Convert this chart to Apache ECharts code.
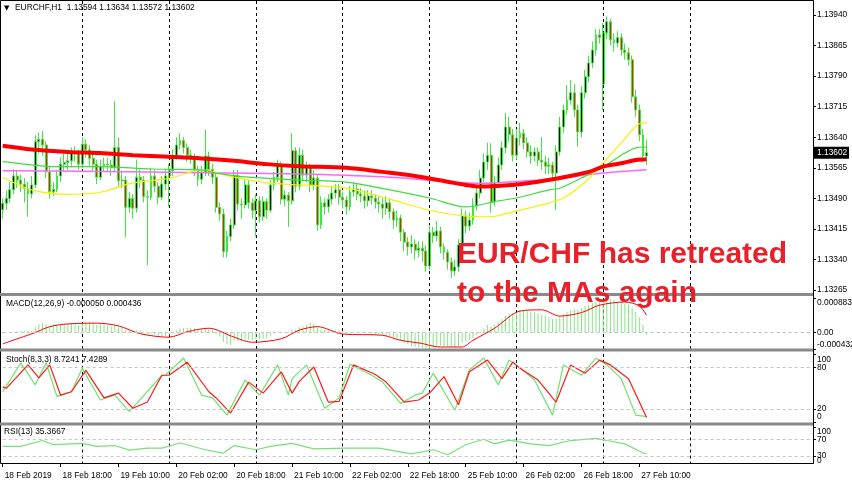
<!DOCTYPE html>
<html><head><meta charset="utf-8">
<script src="https://cdn.jsdelivr.net/npm/echarts@6/dist/echarts.min.js"></script>
<style>html,body{margin:0;padding:0;background:#fff}#c{width:852px;height:485px}</style>
</head><body><div id="c"></div><script>
// ---------- data ----------
const headerText = 'EURCHF,H1  1.13594 1.13634 1.13572 1.13602';
const macdTitle = 'MACD(12,26,9) -0.000050 0.000436';
const stochTitle = 'Stoch(8,3,3) 8.7241 7.4289';
const rsiTitle = 'RSI(13) 35.3667';
const noteLine1 = 'EUR/CHF has retreated';
const noteLine2 = 'to the MAs again';
const tickLabels = ['18 Feb 2019','18 Feb 18:00','19 Feb 10:00','20 Feb 02:00','20 Feb 18:00','21 Feb 10:00','22 Feb 02:00','22 Feb 18:00','25 Feb 10:00','26 Feb 02:00','26 Feb 18:00','27 Feb 10:00'];
const tickStep = 16;
const dayStarts = [22,46,70,94,118,142,166,190];
const slotCount = 225;
const priceTicks = [1.13265,1.13340,1.13415,1.13490,1.13565,1.13640,1.13715,1.13790,1.13865,1.13940];
const lastPrice = 1.13602;
const macdTicks = [0.000883, 0, -0.000432];
const stochTicks = [100, 80, 20, 0];
const rsiTicks = [100, 70, 30, 0];
// [open, close, low, high]
const candles = [
[1.13462,1.13478,1.13440,1.13490],[1.13478,1.13490,1.13462,1.13510],[1.13490,1.13511,1.13478,1.13530],[1.13511,1.13545,1.13500,1.13562],[1.13545,1.13535,1.13515,1.13560],
[1.13535,1.13525,1.13505,1.13548],[1.13525,1.13515,1.13480,1.13540],[1.13515,1.13501,1.13445,1.13530],[1.13501,1.13523,1.13490,1.13545],[1.13523,1.13629,1.13515,1.13645],
[1.13629,1.13635,1.13600,1.13652],[1.13635,1.13621,1.13595,1.13655],[1.13621,1.13555,1.13540,1.13630],[1.13555,1.13506,1.13490,1.13570],[1.13506,1.13512,1.13495,1.13530],
[1.13512,1.13545,1.13505,1.13560],[1.13545,1.13574,1.13530,1.13590],[1.13574,1.13578,1.13555,1.13600],[1.13578,1.13582,1.13560,1.13600],[1.13582,1.13602,1.13570,1.13615],
[1.13602,1.13601,1.13580,1.13618],[1.13601,1.13574,1.13560,1.13610],[1.13574,1.13623,1.13565,1.13640],[1.13623,1.13609,1.13590,1.13635],[1.13609,1.13588,1.13570,1.13620],
[1.13588,1.13574,1.13555,1.13600],[1.13574,1.13542,1.13525,1.13585],[1.13542,1.13569,1.13535,1.13585],[1.13569,1.13574,1.13555,1.13590],[1.13574,1.13572,1.13555,1.13590],
[1.13572,1.13566,1.13545,1.13585],[1.13566,1.13615,1.13555,1.13728],[1.13615,1.13533,1.13520,1.13640],[1.13533,1.13535,1.13515,1.13555],[1.13535,1.13468,1.13395,1.13545],
[1.13468,1.13490,1.13455,1.13505],[1.13490,1.13466,1.13440,1.13500],[1.13466,1.13542,1.13455,1.13585],[1.13542,1.13535,1.13515,1.13560],[1.13535,1.13494,1.13480,1.13545],
[1.13494,1.13493,1.13326,1.13510],[1.13493,1.13545,1.13485,1.13565],[1.13545,1.13520,1.13505,1.13560],[1.13520,1.13493,1.13475,1.13530],[1.13493,1.13525,1.13485,1.13545],
[1.13525,1.13545,1.13510,1.13560],[1.13545,1.13558,1.13470,1.13575],[1.13558,1.13596,1.13545,1.13610],[1.13596,1.13621,1.13585,1.13640],[1.13621,1.13632,1.13610,1.13650],
[1.13632,1.13615,1.13600,1.13640],[1.13615,1.13596,1.13580,1.13625],[1.13596,1.13592,1.13575,1.13610],[1.13592,1.13561,1.13545,1.13600],[1.13561,1.13537,1.13520,1.13570],
[1.13537,1.13555,1.13525,1.13570],[1.13555,1.13594,1.13545,1.13658],[1.13594,1.13561,1.13545,1.13605],[1.13561,1.13542,1.13525,1.13575],[1.13542,1.13468,1.13455,1.13550],
[1.13468,1.13452,1.13435,1.13480],[1.13452,1.13359,1.13345,1.13465],[1.13359,1.13396,1.13345,1.13410],[1.13396,1.13425,1.13385,1.13440],[1.13425,1.13547,1.13415,1.13560],
[1.13547,1.13476,1.13460,1.13560],[1.13476,1.13474,1.13440,1.13490],[1.13474,1.13523,1.13465,1.13535],[1.13523,1.13479,1.13465,1.13535],[1.13479,1.13460,1.13440,1.13490],
[1.13460,1.13484,1.13396,1.13500],[1.13484,1.13445,1.13430,1.13495],[1.13445,1.13482,1.13435,1.13495],[1.13482,1.13461,1.13440,1.13490],[1.13461,1.13523,1.13455,1.13535],
[1.13523,1.13542,1.13510,1.13555],[1.13542,1.13569,1.13530,1.13585],[1.13569,1.13488,1.13475,1.13580],[1.13488,1.13498,1.13470,1.13510],[1.13498,1.13484,1.13420,1.13505],
[1.13484,1.13607,1.13475,1.13650],[1.13607,1.13520,1.13505,1.13615],[1.13520,1.13596,1.13510,1.13615],[1.13596,1.13547,1.13535,1.13610],[1.13547,1.13565,1.13530,1.13580],
[1.13565,1.13523,1.13505,1.13575],[1.13523,1.13540,1.13510,1.13560],[1.13540,1.13425,1.13410,1.13550],[1.13425,1.13479,1.13415,1.13495],[1.13479,1.13469,1.13450,1.13490],
[1.13469,1.13488,1.13455,1.13500],[1.13488,1.13503,1.13475,1.13520],[1.13503,1.13511,1.13490,1.13525],[1.13511,1.13493,1.13475,1.13525],[1.13493,1.13486,1.13465,1.13505],
[1.13486,1.13469,1.13450,1.13495],[1.13469,1.13506,1.13460,1.13520],[1.13506,1.13513,1.13495,1.13530],[1.13513,1.13501,1.13485,1.13525],[1.13501,1.13496,1.13480,1.13515],
[1.13496,1.13484,1.13465,1.13510],[1.13484,1.13496,1.13470,1.13510],[1.13496,1.13491,1.13475,1.13510],[1.13491,1.13481,1.13465,1.13500],[1.13481,1.13476,1.13455,1.13495],
[1.13476,1.13466,1.13440,1.13490],[1.13466,1.13479,1.13450,1.13495],[1.13479,1.13457,1.13440,1.13490],[1.13457,1.13437,1.13415,1.13465],[1.13437,1.13442,1.13420,1.13460],
[1.13442,1.13407,1.13385,1.13450],[1.13407,1.13383,1.13360,1.13415],[1.13383,1.13371,1.13350,1.13395],[1.13371,1.13378,1.13355,1.13400],[1.13378,1.13363,1.13340,1.13390],
[1.13363,1.13368,1.13345,1.13385],[1.13368,1.13361,1.13335,1.13385],[1.13361,1.13324,1.13310,1.13375],[1.13324,1.13407,1.13315,1.13425],[1.13407,1.13398,1.13380,1.13420],
[1.13398,1.13410,1.13385,1.13435],[1.13410,1.13371,1.13355,1.13420],[1.13371,1.13358,1.13340,1.13380],[1.13358,1.13334,1.13315,1.13365],[1.13334,1.13312,1.13295,1.13345],
[1.13312,1.13322,1.13300,1.13340],[1.13322,1.13376,1.13310,1.13390],[1.13376,1.13447,1.13365,1.13465],[1.13447,1.13422,1.13405,1.13460],[1.13422,1.13437,1.13410,1.13455],
[1.13437,1.13471,1.13425,1.13490],[1.13471,1.13503,1.13460,1.13520],[1.13503,1.13540,1.13490,1.13560],[1.13540,1.13579,1.13530,1.13600],[1.13579,1.13596,1.13560,1.13626],
[1.13596,1.13481,1.13455,1.13625],[1.13481,1.13528,1.13470,1.13545],[1.13528,1.13572,1.13515,1.13590],[1.13572,1.13614,1.13560,1.13630],[1.13614,1.13665,1.13600,1.13700],
[1.13665,1.13646,1.13630,1.13690],[1.13646,1.13596,1.13580,1.13660],[1.13596,1.13638,1.13585,1.13660],[1.13638,1.13650,1.13620,1.13675],[1.13650,1.13626,1.13610,1.13660],
[1.13626,1.13604,1.13590,1.13640],[1.13604,1.13594,1.13575,1.13620],[1.13594,1.13604,1.13580,1.13615],[1.13604,1.13584,1.13570,1.13615],[1.13584,1.13579,1.13560,1.13641],
[1.13579,1.13569,1.13550,1.13595],[1.13569,1.13572,1.13550,1.13590],[1.13572,1.13552,1.13535,1.13580],[1.13552,1.13604,1.13461,1.13620],[1.13604,1.13665,1.13595,1.13690],
[1.13665,1.13707,1.13650,1.13720],[1.13707,1.13731,1.13695,1.13768],[1.13731,1.13749,1.13720,1.13780],[1.13749,1.13707,1.13690,1.13770],[1.13707,1.13653,1.13617,1.13720],
[1.13653,1.13749,1.13640,1.13765],[1.13749,1.13788,1.13735,1.13805],[1.13788,1.13822,1.13775,1.13840],[1.13822,1.13854,1.13810,1.13875],[1.13854,1.13891,1.13840,1.13905],
[1.13891,1.13884,1.13870,1.13905],[1.13770,1.13896,1.13707,1.13920],[1.13896,1.13923,1.13880,1.13936],[1.13923,1.13879,1.13865,1.13930],[1.13879,1.13871,1.13850,1.13895],
[1.13871,1.13884,1.13860,1.13900],[1.13884,1.13854,1.13840,1.13895],[1.13854,1.13847,1.13830,1.13870],[1.13847,1.13830,1.13815,1.13860],[1.13830,1.13739,1.13725,1.13840],
[1.13739,1.13707,1.13690,1.13756],[1.13707,1.13646,1.13630,1.13720],[1.13646,1.13594,1.13580,1.13660],[1.13594,1.13602,1.13572,1.13634]
];
// moving averages: [bar index, price]
const maRed = [[0,1.13619],[8,1.13610],[18,1.13604],[27,1.13601],[36,1.13596],[46,1.13592],[55,1.13588],[64,1.13582],[73,1.13574],[82,1.13569],[95,1.13565],[105,1.13555],[114,1.13545],[123,1.13531],[128,1.13523],[132,1.13519],[141,1.13523],[145,1.13527],[154,1.13540],[162,1.13555],[166,1.13568],[171,1.13576],[175,1.13584],[178,1.13586]];
const maMagenta = [[0,1.13558],[27,1.13556],[55,1.13553],[82,1.13550],[105,1.13543],[123,1.13531],[132,1.13527],[145,1.13533],[154,1.13539],[166,1.13552],[178,1.13560]];
const maGreen = [[0,1.13580],[8,1.13572],[14,1.13568],[27,1.13568],[41,1.13562],[55,1.13560],[59,1.13552],[68,1.13542],[82,1.13535],[95,1.13530],[107,1.13511],[118,1.13491],[128,1.13469],[137,1.13484],[142,1.13491],[151,1.13511],[154,1.13515],[160,1.13540],[166,1.13567],[171,1.13596],[175,1.13614],[178,1.13616]];
const maYellow = [[0,1.13542],[8,1.13511],[18,1.13500],[27,1.13505],[36,1.13528],[46,1.13539],[55,1.13560],[64,1.13542],[73,1.13528],[82,1.13523],[95,1.13515],[107,1.13488],[118,1.13461],[129,1.13446],[135,1.13445],[141,1.13457],[149,1.13474],[155,1.13491],[161,1.13530],[166,1.13577],[171,1.13626],[176,1.13673],[178,1.13675]];
// MACD main (histogram), one per bar
const macdHist = [
-0.00003,-0.00002,0,0.00002,0.00003,0.00003,0.00004,0.00003,0.00004,0.00015,
0.00022,0.00025,0.00022,0.00016,0.00016,0.00018,0.0002,0.00021,0.00022,0.00023,
0.00022,0.00019,0.00024,0.00025,0.00026,0.00024,0.0002,0.00022,0.0002,0.00018,
0.00016,0.0002,0.00014,0.00012,0.00006,0.00005,0.00003,0.00006,0.00005,0,
-0.00004,-0.00003,-0.00005,-0.00008,-0.00009,-0.00008,-0.00007,-0.00002,0.00005,0.0001,
0.00012,0.00012,0.00012,0.0001,0.00008,0.00008,0.00012,0.0001,0.00006,-0.00004,
-0.0001,-0.00024,-0.0003,-0.00032,-0.0002,-0.00022,-0.00023,-0.00018,-0.00018,-0.00019,
-0.00017,-0.00018,-0.00015,-0.00014,-0.00008,-0.00003,0.00002,0,0,-0.00001,
0.00008,0.00008,0.00014,0.00016,0.00019,0.00025,0.00022,0.00012,0.00008,0.00007,
0.00006,0.00006,0.00006,0.00005,0.00004,0.00002,0.00002,0.00002,0.00002,0.00001,
-0.00001,-0.00002,-0.00003,-0.00005,-0.00006,-0.00007,-0.00008,-0.00009,-0.00012,-0.00016,
-0.0002,-0.00026,-0.0003,-0.00034,-0.00036,-0.00038,-0.0004,-0.00043,-0.00043,-0.00037,
-0.00034,-0.00034,-0.00035,-0.00036,-0.00038,-0.00038,-0.00034,-0.00026,-0.00022,-0.00019,
-0.00014,-0.00006,0.00002,0.0001,0.00019,0.00016,0.0002,0.00026,0.00034,0.00043,
0.00048,0.00049,0.00052,0.00055,0.00056,0.00056,0.00053,0.00051,0.00048,0.00045,
0.00042,0.00039,0.00035,0.00036,0.00042,0.00048,0.00053,0.00058,0.0006,0.00059,
0.00063,0.00067,0.00071,0.00075,0.00079,0.00077,0.0008,0.00088,0.00086,0.00083,
0.00079,0.00077,0.00074,0.00071,0.00064,0.00053,0.00039,0.0002,-0.00005
];
const macdSignal = [[0,-0.00029],[9,0],[13,0.00015],[18,0.00022],[26,0.00024],[32,0.00017],[38,-0.00003],[46,-0.00012],[51,0.00002],[57,0.00011],[64,-0.00012],[69,-0.00025],[77,-0.00016],[82,0.00006],[87,0.00015],[94,-0.00004],[105,-0.00007],[110,-0.0002],[116,-0.00028],[118,-0.00033],[121,-0.00037],[127,-0.00037],[130,-0.0002],[136,0.00011],[143,0.00055],[149,0.00058],[154,0.00042],[160,0.00051],[165,0.00070],[172,0.00078],[176,0.00068],[178,0.00044]];
const stochK = [[0,45],[5,87],[9,55],[12,87],[15,38],[19,45],[22,79],[27,33],[31,40],[35,16],[44,69],[45,69],[50,94],[55,40],[58,36],[62,11],[67,62],[71,40],[76,84],[79,40],[80,64],[84,84],[89,21],[93,36],[96,85],[102,69],[105,59],[110,28],[114,40],[116,43],[119,72],[125,18],[129,77],[133,94],[137,55],[140,91],[143,80],[147,62],[152,11],[155,84],[160,69],[164,94],[167,84],[171,64],[175,11],[178,8.72]];
const stochD = [[0,52],[1,50],[7,84],[10,65],[13,84],[16,40],[19,45],[23,76],[28,36],[32,43],[36,21],[40,30],[44,69],[46,69],[51,88],[57,45],[59,36],[63,14],[68,59],[72,43],[77,74],[80,43],[82,60],[86,81],[90,30],[93,31],[97,84],[103,70],[106,59],[111,30],[115,33],[118,43],[122,67],[126,26],[129,74],[134,91],[138,64],[141,88],[143,79],[148,62],[153,30],[157,84],[161,72],[165,91],[168,84],[173,64],[178,7.43]];
const rsi = [[0,53],[5,53],[11,67],[14,57],[22,60],[26,53],[31,55],[35,44],[40,49],[44,49],[49,61],[56,45],[61,37],[64,55],[70,45],[74,53],[80,60],[86,47],[95,49],[104,49],[113,35],[119,45],[123,33],[128,57],[133,70],[136,59],[140,68],[146,59],[151,55],[157,67],[164,72],[167,67],[172,59],[177,37],[178,35.37]];

// ---------- chart ----------
const FONT = '"Liberation Sans", Arial, sans-serif';
const FS = 8.4;
const cats = Array.from({length: slotCount}, (_, i) => String(i));
const isDay = i => dayStarts.indexOf(i) >= 0;
const isTick = i => i % tickStep === 0 && i / tickStep < tickLabels.length;

function xAx(gi, labels) {
  return {
    type: 'category', gridIndex: gi, data: cats, boundaryGap: false,
    axisLine: {show: labels, onZero: false, lineStyle: {color: '#000', width: 1}},
    axisTick: {show: labels, interval: (i) => isTick(i), length: 4, lineStyle: {color: '#000'}},
    axisLabel: {show: labels, interval: (i) => isTick(i), formatter: (v, i) => tickLabels[i / tickStep] || '',
      align: 'left', margin: 9, padding: [0, 0, 0, 2], fontSize: FS, fontFamily: FONT, color: '#000', hideOverlap: false},
    splitLine: {show: true, interval: (i) => isDay(i), lineStyle: {type: [3, 3], color: '#000', width: 1}}
  };
}
function yAx(gi, min, max, vals, showLabels) {
  return {
    type: 'value', gridIndex: gi, position: 'right', min: min, max: max,
    axisLine: {show: true, onZero: false, lineStyle: {color: '#000', width: 1}},
    axisTick: {show: true, length: 3, customValues: vals.filter(v => v >= min && v <= max), lineStyle: {color: '#000'}},
    axisLabel: {show: showLabels, customValues: vals, formatter: v => v.toFixed(5),
      fontSize: FS, fontFamily: FONT, color: '#000', margin: 4, hideOverlap: false},
    splitLine: {show: false}
  };
}
const dashLevel = (vals) => ({
  symbol: 'none', silent: true, animation: false, label: {show: false},
  lineStyle: {type: [3, 3], color: '#c4c4c4', width: 1},
  data: vals.map(v => ({yAxis: v}))
});

const LEFT = 2.7, RIGHT = 39;
const GR = [[1, 292], [298, 51.4], [353.9, 68.8], [425.5, 37.5]];
const G = (k) => ({left: LEFT, right: RIGHT, top: GR[k][0], height: GR[k][1], containLabel: false, outerBoundsMode: 'none'});
const AX = [[1.13258, 1.13974], [-0.000432, 0.000883], [0, 100], [13.2, 103]];
const option = {
  animation: false,
  backgroundColor: '#ffffff',
  grid: [G(0), G(1), G(2), G(3)],
  xAxis: [xAx(0, false), xAx(1, false), xAx(2, false), xAx(3, true)],
  yAxis: [
    yAx(0, AX[0][0], AX[0][1], priceTicks, true),
    yAx(1, AX[1][0], AX[1][1], macdTicks, false),
    yAx(2, AX[2][0], AX[2][1], stochTicks, false),
    yAx(3, AX[3][0], AX[3][1], rsiTicks, false)
  ],
  series: [
    {type: 'candlestick', xAxisIndex: 0, yAxisIndex: 0, data: candles, barWidth: 2.4, clip: false, z: 2,
      itemStyle: {color: '#000000', color0: '#e02010', borderColor: '#3fe83f', borderColor0: '#3fe83f', borderWidth: 1},
      markLine: {symbol: 'none', silent: true, animation: false,
        lineStyle: {color: '#a9b3c2', type: 'solid', width: 1}, label: {show: false},
        data: [{yAxis: lastPrice}]}},
    {type: 'line', xAxisIndex: 0, yAxisIndex: 0, data: maMagenta, symbol: 'none', smooth: 0.3, z: 3, lineStyle: {color: '#ff66ff', width: 1.5}},
    {type: 'line', xAxisIndex: 0, yAxisIndex: 0, data: maYellow, symbol: 'none', smooth: 0.3, z: 3, lineStyle: {color: '#f2f200', width: 1.2}},
    {type: 'line', xAxisIndex: 0, yAxisIndex: 0, data: maGreen, symbol: 'none', smooth: 0.3, z: 3, lineStyle: {color: '#3fdc3f', width: 1.2}},
    {type: 'line', xAxisIndex: 0, yAxisIndex: 0, data: maRed, symbol: 'none', smooth: 0.3, z: 4, lineStyle: {color: '#ff0000', width: 4}},
    {type: 'bar', xAxisIndex: 1, yAxisIndex: 1, data: macdHist, barWidth: 1, itemStyle: {color: '#86e486'}},
    {type: 'line', xAxisIndex: 1, yAxisIndex: 1, data: macdSignal, symbol: 'none', smooth: 0.3, lineStyle: {color: '#ff0000', width: 1}, markLine: dashLevel([0])},
    {type: 'line', xAxisIndex: 2, yAxisIndex: 2, data: stochK, symbol: 'none', lineStyle: {color: '#6fe26f', width: 1.2}, markLine: dashLevel([80, 20])},
    {type: 'line', xAxisIndex: 2, yAxisIndex: 2, data: stochD, symbol: 'none', lineStyle: {color: '#ff1a1a', width: 1.2}},
    {type: 'line', xAxisIndex: 3, yAxisIndex: 3, data: rsi, symbol: 'none', lineStyle: {color: '#78e078', width: 1.2}, markLine: dashLevel([70, 30])}
  ],
  graphic: [
    {id: 'frame', type: 'rect', shape: {x: 0.5, y: 0.5, width: 813, height: 463}, style: {fill: 'none', stroke: '#000', lineWidth: 1}, z: 50, silent: true},
    {id: 'sep1', type: 'rect', shape: {x: 0, y: 293, width: 813, height: 3}, style: {fill: '#8a8a8a'}, z: 50, silent: true},
    {id: 'sep2', type: 'rect', shape: {x: 0, y: 348.5, width: 813, height: 3}, style: {fill: '#8a8a8a'}, z: 50, silent: true},
    {id: 'sep3', type: 'rect', shape: {x: 0, y: 422.5, width: 813, height: 3}, style: {fill: '#8a8a8a'}, z: 50, silent: true},
    {id: 'tri', type: 'text', x: 4, y: 8, z: 60, style: {text: '\u25BC', font: '7px "DejaVu Sans"', fill: '#000', verticalAlign: 'middle'}},
    {id: 'hdr', type: 'text', x: 15, y: 8, z: 60, style: {text: headerText, font: FS + 'px ' + FONT, fill: '#000', verticalAlign: 'middle'}},
    {id: 'tmacd', type: 'text', x: 6, y: 304, z: 60, style: {text: macdTitle, font: FS + 'px ' + FONT, fill: '#000', verticalAlign: 'middle'}},
    {id: 'tstoch', type: 'text', x: 6, y: 360, z: 60, style: {text: stochTitle, font: FS + 'px ' + FONT, fill: '#000', verticalAlign: 'middle'}},
    {id: 'trsi', type: 'text', x: 4, y: 432, z: 60, style: {text: rsiTitle, font: FS + 'px ' + FONT, fill: '#000', verticalAlign: 'middle'}},
    {id: 'note1', type: 'text', x: 457, y: 255, z: 70, style: {text: noteLine1, font: 'bold 30px "Liberation Sans", Arial, sans-serif', fill: '#e8202a', verticalAlign: 'middle'}},
    {id: 'note2', type: 'text', x: 457, y: 294, z: 70, style: {text: noteLine2, font: 'bold 30px "Liberation Sans", Arial, sans-serif', fill: '#e8202a', verticalAlign: 'middle'}}
  ]
};
const chart = echarts.init(document.getElementById('c'), null, {renderer: 'canvas'});
chart.setOption(option);

// indicator scale labels: the terminal keeps them a few pixels inside each pane
const extra = [];
function paneLabels(axisIdx, vals, fmt, padTop, padBot) {
  const top = GR[axisIdx][0], bot = GR[axisIdx][0] + GR[axisIdx][1];
  vals.forEach((v, k) => {
    const py = Math.min(bot - padBot, Math.max(top + padTop, chart.convertToPixel({yAxisIndex: axisIdx}, v)));
    extra.push({id: 'pl' + axisIdx + '_' + k, type: 'text', x: 817, y: py, z: 60,
      style: {text: fmt(v), font: FS + 'px ' + FONT, fill: '#000', verticalAlign: 'middle'}});
  });
}
paneLabels(1, macdTicks, v => v === 0 ? '0.00' : v.toFixed(6), 5, 5);
paneLabels(2, stochTicks, v => String(v), 5.5, 6);
paneLabels(3, rsiTicks, v => String(v), 6, 2.3);
// current-price tag on the price scale
const tagY = chart.convertToPixel({yAxisIndex: 0}, lastPrice);
extra.push({id: 'tagBox', type: 'rect', shape: {x: 814, y: tagY - 6, width: 35, height: 12}, style: {fill: '#000'}, z: 80, silent: true});
extra.push({id: 'tagTxt', type: 'text', x: 817, y: tagY, z: 81, style: {text: lastPrice.toFixed(5), font: FS + 'px ' + FONT, fill: '#fff', verticalAlign: 'middle'}});
chart.setOption({graphic: extra});
</script></body></html>
